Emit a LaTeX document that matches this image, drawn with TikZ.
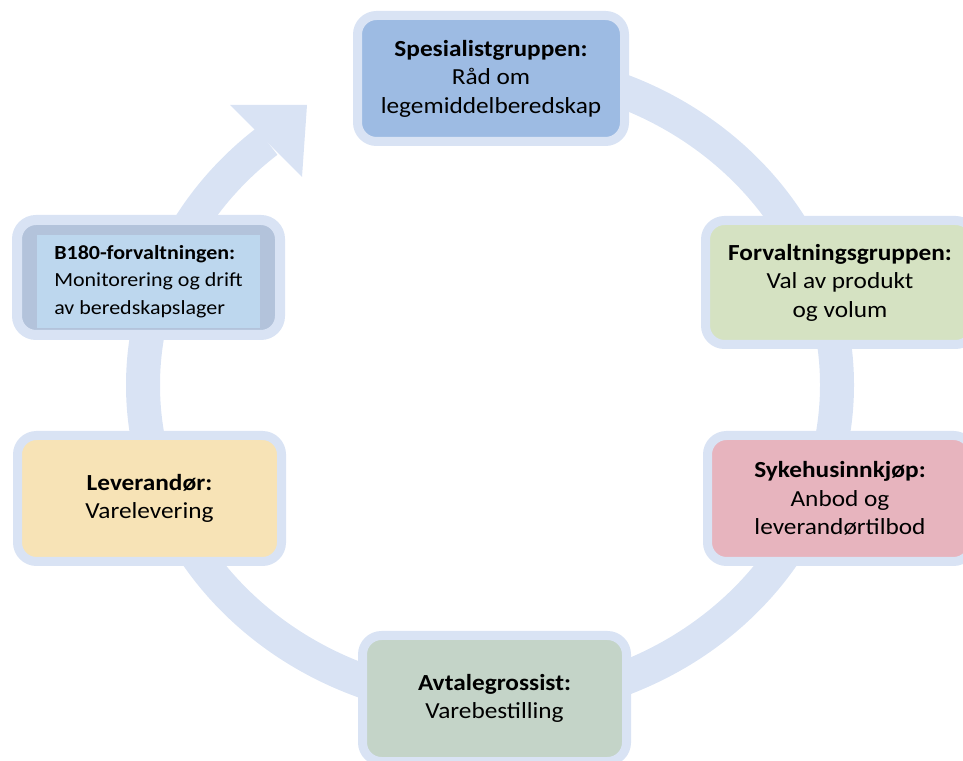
\documentclass[tikz,border=0pt]{standalone}
\usepackage{fontspec}
\setmainfont{Carlito}[FakeStretch=1.1]
\definecolor{ringblue}{HTML}{D9E3F4}
\definecolor{spesblue}{HTML}{9DBBE3}
\definecolor{forvgreen}{HTML}{D5E2C2}
\definecolor{sykepink}{HTML}{E7B4BE}
\definecolor{avtalegrey}{HTML}{C4D4C8}
\definecolor{levyellow}{HTML}{F7E3B6}
\definecolor{bdark}{HTML}{B3C3DB}
\definecolor{blight}{HTML}{BDD7EE}

\begin{document}
\begin{tikzpicture}[x=1pt,y=1pt,
    box/.style={draw=ringblue,line width=9pt,rounded corners=19pt,inner sep=0pt,
      minimum width=264pt,minimum height=126pt,align=center,
      font=\fontsize{23}{28.5}\selectfont}]
    \useasboundingbox (0,0) rectangle (963,760);
    \draw[ringblue,line width=34pt] (490,693) arc[start angle=90,end angle=-230,x radius=347,y radius=318];
    \fill[ringblue] (230,655) -- (307,655) -- (302,583) -- cycle;
    \node[box,fill=spesblue,minimum width=267pt] (spes) at (491,681.5)
        {\textbf{Spesialistgruppen:}\\Råd om\\legemiddelberedskap};
    \node[box,fill=forvgreen,minimum width=269pt,minimum height=124pt] (forv) at (840,477.5)
        {\textbf{Forvaltningsgruppen:}\\Val av produkt\\og volum};
    \node[box,fill=sykepink,minimum width=265pt] (syke) at (840,261.5)
        {\textbf{Sykehusinnkjøp:}\\Anbod og\\leverandørtilbod};
    \node[box,fill=avtalegrey] (avtale) at (494.5,61.5)
        {\textbf{Avtalegrossist:}\\Varebestilling};
    \node[box,fill=levyellow] (lev) at (149.5,261.5)
        {\textbf{Leverandør:}\\Varelevering};
    \node[draw=ringblue,line width=10pt,fill=bdark,rounded corners=19pt,
        minimum width=263pt,minimum height=115pt] (b180) at (148.5,482.5) {};
    \node[fill=blight,minimum width=223pt,minimum height=93pt,align=left,
        font=\fontsize{20}{27.5}\selectfont] (b180txt) at (148.5,478.5)
        {\textbf{B180-forvaltningen:}\\Monitorering og drift\\av beredskapslager};
\end{tikzpicture}
\end{document}
